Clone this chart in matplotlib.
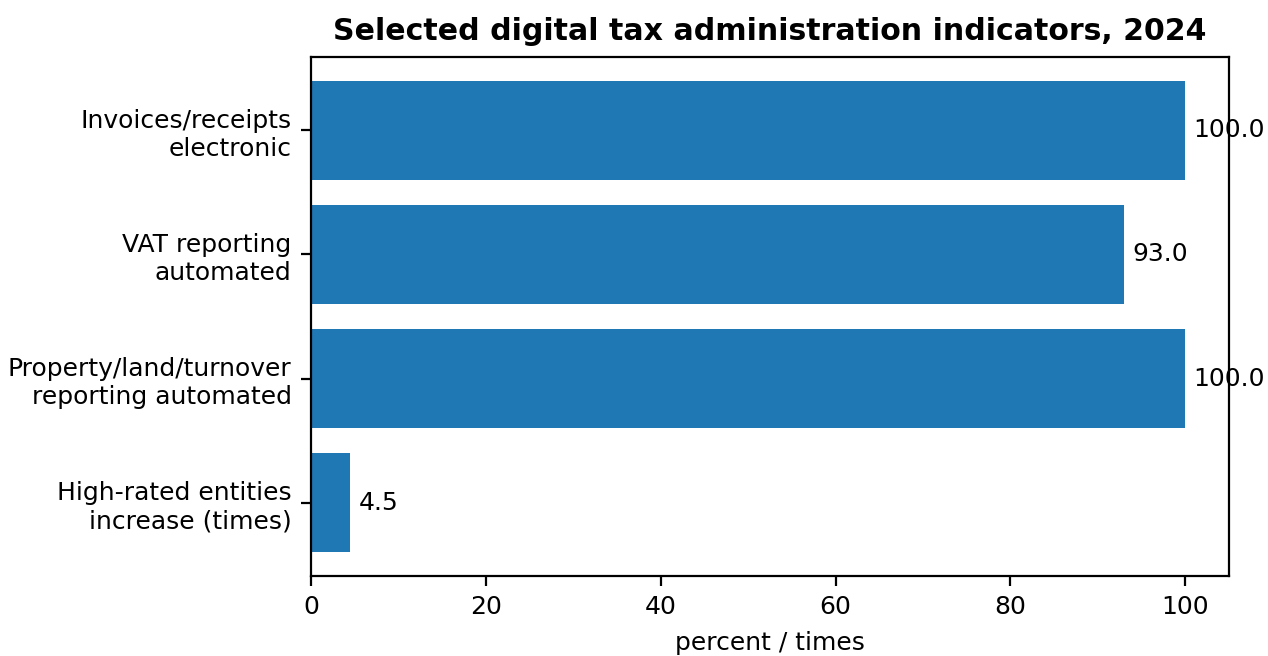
import matplotlib
matplotlib.use("Agg")
import matplotlib.pyplot as plt

categories = [
    "Invoices/receipts\nelectronic",
    "VAT reporting\nautomated",
    "Property/land/turnover\nreporting automated",
    "High-rated entities\nincrease (times)",
]
values = [100.0, 93.0, 100.0, 4.5]
xticks = [0, 20, 40, 60, 80, 100]

plt.rcParams["font.family"] = ["DejaVu Sans"]
plt.rcParams["font.size"] = 9

DPI = 200
fig = plt.figure(figsize=(1268 / DPI, 656 / DPI), dpi=DPI)
ax = fig.add_axes([311 / 1268, 1 - 576 / 656, (1229 - 311) / 1268, (576 - 57) / 656])

bars = ax.barh(categories, values, color="#1f77b4", height=0.8)
ax.invert_yaxis()
ax.bar_label(bars, labels=[f"{v:.1f}" for v in values], padding=3)
ax.set_xlim(0, 105)
ax.set_xticks(xticks)
ax.set_xlabel("percent / times")
ax.set_title("Selected digital tax administration indicators, 2024",
             fontsize=10.8, fontweight="bold")

fig.savefig("out.png", dpi=DPI)
